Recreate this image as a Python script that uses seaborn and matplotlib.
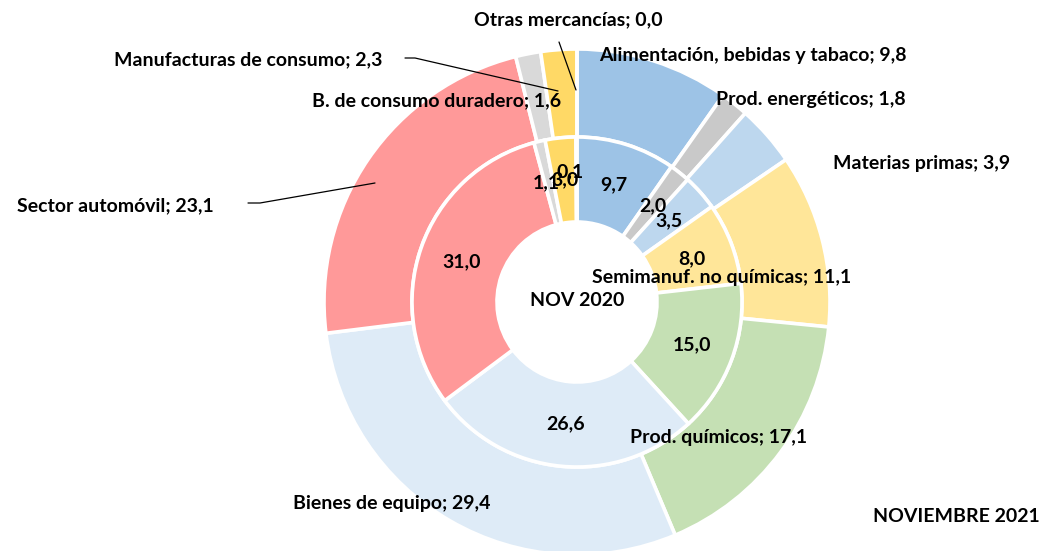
import matplotlib
matplotlib.use("Agg")
import matplotlib.pyplot as plt
import seaborn as sns
import numpy as np

# ---------------- data ----------------
categories = ["Alimentación, bebidas y tabaco", "Prod. energéticos", "Materias primas",
              "Semimanuf. no químicas", "Prod. químicos", "Bienes de equipo",
              "Sector automóvil", "B. de consumo duradero", "Manufacturas de consumo",
              "Otras mercancías"]
values_2021 = [9.8, 1.8, 3.9, 11.1, 17.1, 29.4, 23.1, 1.6, 2.3, 0.0]
values_2020 = [9.7, 2.0, 3.5, 8.0, 15.0, 26.6, 31.0, 1.1, 3.0, 0.1]
hex_colors = ["#9DC3E6", "#C9C9C9", "#BDD7EE", "#FFE699", "#C5E0B4",
              "#DEEBF7", "#FF9999", "#D9D9D9", "#FFD966", "#A5A5A5"]
inner_title = "NOV 2020"
outer_title = "NOVIEMBRE 2021"

# ---------------- style ----------------
sns.set_theme(style="white")
plt.rcParams['font.family'] = ['Lato', 'DejaVu Sans']
palette = sns.color_palette(hex_colors)

W, H = 1042, 551
fig = plt.figure(figsize=(W / 100, H / 100), dpi=100)
ax = fig.add_axes([0, 0, 1, 1])

def P(x, y):
    return x, H - y

cx, cy = P(577, 302)
R_out, R_mid, R_in = 253, 165, 80

ax.pie(values_2021, radius=R_out, center=(cx, cy), startangle=90, counterclock=False,
       colors=palette, wedgeprops=dict(width=R_out - R_mid, edgecolor="white", linewidth=2.6))
ax.pie(values_2020, radius=R_mid, center=(cx, cy), startangle=90, counterclock=False,
       colors=palette, wedgeprops=dict(width=R_mid - R_in, edgecolor="white", linewidth=2.6))

FS = 14
def fmt(v):
    return f"{v:.1f}".replace(".", ",")

# inner ring labels at wedge mid-angles
vals = np.array(values_2020)
frac = (np.cumsum(vals) - vals / 2) / vals.sum()
theta = np.deg2rad(90 - 360 * frac)
r_lab = (R_mid + R_in) / 2
inner_nudge = {7: (-3, 0), 9: (-6, 8)}
for i, v in enumerate(values_2020):
    dx, dy = inner_nudge.get(i, (0, 0))
    ax.text(cx + r_lab * np.cos(theta[i]) + dx, cy + r_lab * np.sin(theta[i]) + dy, fmt(v),
            ha="center", va="center", fontsize=FS, fontweight="bold", color="black")

# outer ring labels (manually placed as in the original)
outer_pos = [(753, 55), (811, 100), (922, 163), (722, 278), (719, 438),
             (392, 503), (115, 206), (437, 101), (248, 60), (568, 20)]
for name, v, (x, y) in zip(categories, values_2021, outer_pos):
    ax.text(*P(x, y), f"{name}; {fmt(v)}", ha="center", va="center",
            fontsize=FS, fontweight="bold", color="black")

# leader lines
leaders = [[(248, 203), (260, 203), (375, 183)],
           [(405, 58), (415, 58), (558, 91)],
           [(559, 42), (576, 90)]]
for pts in leaders:
    xs, ys = zip(*[P(x, y) for x, y in pts])
    ax.plot(xs, ys, color="black", lw=0.9)

ax.text(*P(577, 301), inner_title, ha="center", va="center", fontsize=FS,
        fontweight="bold", color="black")
ax.text(*P(956, 517), outer_title, ha="center", va="center", fontsize=FS,
        fontweight="bold", color="black")

ax.set_xlim(0, W)
ax.set_ylim(0, H)
ax.set_aspect("equal")
ax.axis("off")
fig.savefig("out.png", dpi=100, facecolor="white")
